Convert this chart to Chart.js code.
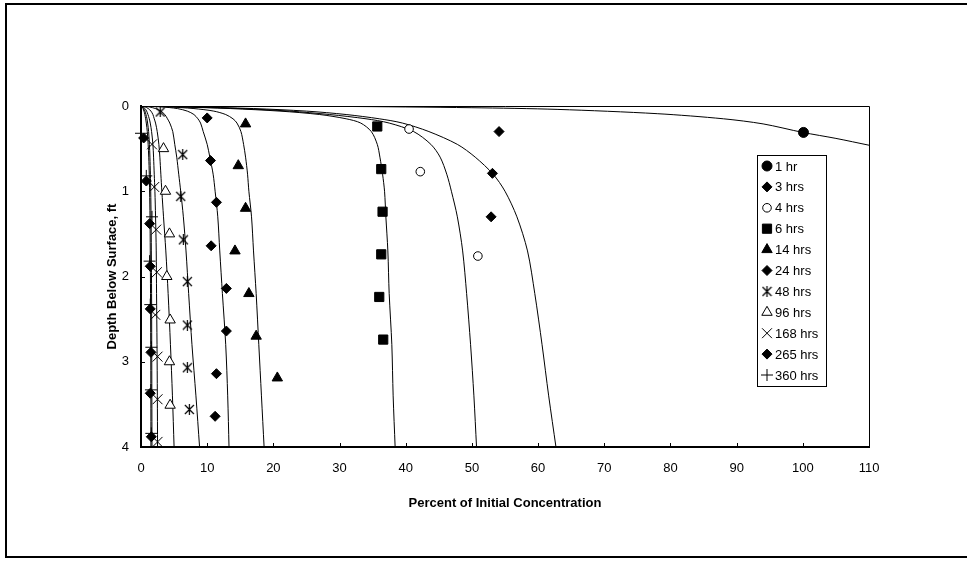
<!DOCTYPE html>
<html>
<head>
<meta charset="utf-8">
<script src="https://cdn.jsdelivr.net/npm/chart.js@4/dist/chart.umd.min.js"></script>
<style>
  html, body { margin: 0; padding: 0; background: #fff; }
  #wrap { width: 967px; height: 561px; }
</style>
</head>
<body>
<div id="wrap"><canvas id="profile" width="967" height="561"></canvas></div>
<script>
// Concentration profiles with depth, measured points and fitted curves
const seriesLabels = ['1 hr', '3 hrs', '4 hrs', '6 hrs', '14 hrs', '24 hrs', '48 hrs', '96 hrs', '168 hrs', '265 hrs', '360 hrs'];

// measured points: percent of initial concentration / depth (ft)
const obs1X = [100.1];
const obs1D = [0.31];
const obs3X = [54.1, 53.1, 52.9];
const obs3D = [0.30, 0.79, 1.30];
const obs4X = [40.5, 42.2, 50.9];
const obs4D = [0.27, 0.77, 1.76];
const obs6X = [35.7, 36.3, 36.5, 36.3, 36.0, 36.6];
const obs6D = [0.24, 0.74, 1.24, 1.74, 2.24, 2.74];
const obs14X = [15.8, 14.7, 15.8, 14.2, 16.3, 17.4, 20.6];
const obs14D = [0.21, 0.70, 1.20, 1.70, 2.20, 2.70, 3.19];
const obs24X = [10.0, 10.5, 11.4, 10.6, 12.9, 12.9, 11.4, 11.2];
const obs24D = [0.14, 0.64, 1.13, 1.64, 2.14, 2.64, 3.14, 3.64];
const obs48X = [2.9, 6.3, 6.0, 6.4, 7.0, 7.0, 7.0, 7.3];
const obs48D = [0.07, 0.57, 1.06, 1.57, 2.06, 2.57, 3.07, 3.56];
const obs96X = [3.4, 3.7, 4.3, 3.9, 4.4, 4.3, 4.4];
const obs96D = [0.50, 1.00, 1.50, 2.00, 2.51, 3.00, 3.51];
const obs168X = [1.66, 2.0, 2.3, 2.4, 2.16, 2.5, 2.5, 2.5];
const obs168D = [0.45, 0.95, 1.45, 1.95, 2.45, 2.94, 3.44, 3.94];
const obs265X = [0.4, 0.8, 1.3, 1.4, 1.4, 1.5, 1.4, 1.56];
const obs265D = [0.375, 0.88, 1.38, 1.88, 2.38, 2.89, 3.37, 3.88];
const obs360X = [0, 0.8, 1.66, 1.3, 1.4, 1.56, 1.5, 1.56];
const obs360D = [0.32, 0.82, 1.30, 1.82, 2.33, 2.83, 3.33, 3.84];

// fitted curves, sampled at the same depths
const fitDepths = [0, 0.01, 0.03, 0.06, 0.1, 0.15, 0.2, 0.3, 0.45, 0.6, 0.8, 1.0, 1.3, 1.7, 2.2, 2.8, 3.4, 4.0];
const fit3 = [0, 7, 17, 25, 31, 36, 39.5, 43.5, 47.8, 50.5, 53.2, 55, 56.8, 58.4, 59.5, 60.6, 61.6, 62.7];
const fit4 = [0, 6, 15, 22.5, 28.5, 34, 37.5, 41.2, 43.8, 45.2, 46.2, 46.9, 47.8, 48.6, 49.2, 49.8, 50.3, 50.7];
const fit6 = [0, 5.5, 13.5, 21, 27, 31, 33.2, 34.8, 35.7, 36.1, 36.5, 36.8, 37.0, 37.3, 37.5, 37.9, 38.1, 38.4];
const fit14 = [0, 4, 8, 11, 12.8, 13.9, 14.5, 15.1, 15.5, 15.8, 16.1, 16.3, 16.7, 17.0, 17.4, 17.8, 18.2, 18.6];
const fit24 = [0, 3, 5.5, 7, 8, 8.6, 9.0, 9.4, 10.0, 10.4, 10.9, 11.2, 11.6, 11.9, 12.3, 12.8, 13.1, 13.3];
const fit48 = [0, 1.2, 2.2, 3.0, 3.6, 4.0, 4.35, 4.8, 5.1, 5.4, 5.7, 6.0, 6.4, 6.8, 7.2, 7.7, 8.3, 8.85];
const fit96 = [0, 0.6, 1.1, 1.5, 1.8, 2.0, 2.2, 2.45, 2.7, 2.85, 3.0, 3.15, 3.4, 3.75, 4.1, 4.45, 4.75, 5.0];
const fit168 = [0, 0.3, 0.6, 0.85, 1.05, 1.25, 1.4, 1.6, 1.8, 1.9, 2.0, 2.1, 2.2, 2.3, 2.35, 2.42, 2.47, 2.5];
const fit265 = [0, 0.2, 0.4, 0.6, 0.75, 0.9, 1.0, 1.15, 1.27, 1.35, 1.42, 1.47, 1.52, 1.56, 1.6, 1.62, 1.64, 1.66];
const fit360 = [0, 0.15, 0.3, 0.45, 0.58, 0.7, 0.8, 0.95, 1.08, 1.17, 1.25, 1.3, 1.36, 1.4, 1.44, 1.47, 1.49, 1.5];
// the 1 hr curve leaves the plot on the right
const fit1X = [0, 30, 50, 63, 78, 88, 94, 100, 105, 110];
const fit1D = [0, 0.005, 0.02, 0.04, 0.09, 0.15, 0.21, 0.31, 0.38, 0.46];

const xTicks = [0, 10, 20, 30, 40, 50, 60, 70, 80, 90, 100, 110];
const yTicks = [0, 1, 2, 3, 4];

const FONT = 'Arial, "Liberation Sans", sans-serif';

function pairs(xs, ds) {
    return xs.map((x, i) => ({ x: x, y: ds[i] }));
}

// Excel style star: an X with a vertical stroke
function asteriskMarker(size) {
    const c = document.createElement('canvas');
    c.width = size;
    c.height = size;
    const g = c.getContext('2d');
    g.strokeStyle = '#000';
    g.lineWidth = 1.2;
    g.beginPath();
    g.moveTo(1, 1); g.lineTo(size - 1, size - 1);
    g.moveTo(size - 1, 1); g.lineTo(1, size - 1);
    g.moveTo(size / 2, 0); g.lineTo(size / 2, size);
    g.stroke();
    return c;
}
const asterisk = asteriskMarker(11);

const markerStyles = [
    { pointStyle: 'circle', radius: 5, fill: '#000' },
    { pointStyle: 'rectRot', radius: 5, fill: '#000' },
    { pointStyle: 'circle', radius: 4.3, fill: '#fff' },
    { pointStyle: 'rect', radius: 6.5, fill: '#000' },
    { pointStyle: 'triangle', radius: 6, fill: '#000' },
    { pointStyle: 'rectRot', radius: 5, fill: '#000' },
    { pointStyle: asterisk, radius: 5, fill: '#000' },
    { pointStyle: 'triangle', radius: 6, fill: '#fff' },
    { pointStyle: 'crossRot', radius: 7, fill: '#000' },
    { pointStyle: 'rectRot', radius: 5, fill: '#000' },
    { pointStyle: 'cross', radius: 6, fill: '#000' }
];

const observed = [
    pairs(obs1X, obs1D), pairs(obs3X, obs3D), pairs(obs4X, obs4D), pairs(obs6X, obs6D),
    pairs(obs14X, obs14D), pairs(obs24X, obs24D), pairs(obs48X, obs48D), pairs(obs96X, obs96D),
    pairs(obs168X, obs168D), pairs(obs265X, obs265D), pairs(obs360X, obs360D)
];

const fitted = [
    pairs(fit1X, fit1D), pairs(fit3, fitDepths), pairs(fit4, fitDepths), pairs(fit6, fitDepths),
    pairs(fit14, fitDepths), pairs(fit24, fitDepths), pairs(fit48, fitDepths), pairs(fit96, fitDepths),
    pairs(fit168, fitDepths), pairs(fit265, fitDepths), pairs(fit360, fitDepths)
];

const datasets = [];
seriesLabels.forEach((label, i) => {
    const st = markerStyles[i];
    datasets.push({
        label: label,
        data: observed[i],
        showLine: false,
        pointStyle: st.pointStyle,
        pointRadius: st.radius,
        pointHoverRadius: st.radius,
        pointBackgroundColor: st.fill,
        pointBorderColor: '#000',
        pointBorderWidth: 1,
        backgroundColor: st.fill,
        borderColor: '#000',
        clip: false,
        order: 0
    });
});
fitted.forEach((pts, i) => {
    datasets.push({
        label: 'fit ' + seriesLabels[i],
        data: pts,
        showLine: true,
        fill: false,
        pointRadius: 0,
        borderColor: '#000',
        borderWidth: 1,
        tension: 0.3,
        order: 1
    });
});

// outer frame, plot box and inward tick marks
const framePlugin = {
    id: 'frame',
    beforeDraw(chart) {
        const ctx = chart.ctx;
        ctx.save();
        ctx.fillStyle = '#fff';
        ctx.fillRect(0, 0, chart.width, chart.height);
        ctx.strokeStyle = '#000';
        ctx.lineWidth = 2;
        ctx.strokeRect(6, 4, 980, 553);
        ctx.restore();
    },
    afterDatasetsDraw(chart) {
        const ctx = chart.ctx;
        const a = chart.chartArea;
        const xs = chart.scales.x;
        const ys = chart.scales.y;
        ctx.save();
        ctx.strokeStyle = '#000';
        ctx.lineWidth = 1;
        ctx.beginPath();
        ctx.moveTo(a.left, a.top + 0.5);
        ctx.lineTo(a.right + 0.5, a.top + 0.5);
        ctx.lineTo(a.right + 0.5, a.bottom);
        ctx.stroke();
        ctx.beginPath();
        xTicks.forEach(v => {
            const px = Math.round(xs.getPixelForValue(v)) + 0.5;
            ctx.moveTo(px, a.bottom);
            ctx.lineTo(px, a.bottom - 4);
        });
        yTicks.forEach(v => {
            const py = Math.round(ys.getPixelForValue(v)) + 0.5;
            ctx.moveTo(a.left, py);
            ctx.lineTo(a.left + 4, py);
        });
        ctx.stroke();
        ctx.restore();
    }
};

// boxed legend inside the plot, markers only
const legendBox = {
    id: 'legendBox',
    afterDraw(chart) {
        const ctx = chart.ctx;
        ctx.save();
        ctx.fillStyle = '#fff';
        ctx.fillRect(757.5, 155.5, 69, 231);
        ctx.strokeStyle = '#000';
        ctx.lineWidth = 1;
        ctx.strokeRect(757.5, 155.5, 69, 231);
        ctx.font = '13px ' + FONT;
        ctx.textBaseline = 'middle';
        seriesLabels.forEach((label, i) => {
            const st = markerStyles[i];
            const y = 166 + i * 20.9;
            ctx.fillStyle = st.fill;
            ctx.strokeStyle = '#000';
            ctx.lineWidth = 1;
            Chart.helpers.drawPoint(ctx, { pointStyle: st.pointStyle, radius: st.radius, borderWidth: 1, rotation: 0 }, 767, y);
            ctx.fillStyle = '#000';
            ctx.fillText(label, 775, y + 1);
        });
        ctx.restore();
    }
};

new Chart(document.getElementById('profile'), {
    type: 'scatter',
    data: { datasets: datasets },
    options: {
        responsive: false,
        animation: false,
        events: [],
        layout: { padding: { top: 106, right: 98, left: 0, bottom: 0 } },
        plugins: {
            legend: { display: false },
            tooltip: { enabled: false }
        },
        scales: {
            x: {
                type: 'linear',
                min: 0,
                max: 110,
                afterFit: s => { s.height = 114; },
                afterBuildTicks: s => { s.ticks = xTicks.map(v => ({ value: v })); },
                ticks: { color: '#000', padding: 14, font: { family: FONT, size: 13 } },
                grid: { display: false, drawTicks: false },
                border: { display: true, color: '#000', width: 2 },
                title: {
                    display: true,
                    text: 'Percent of Initial Concentration',
                    color: '#000',
                    font: { family: FONT, size: 13, weight: 'bold' },
                    padding: { top: 0, bottom: 50 }
                }
            },
            y: {
                type: 'linear',
                min: 0,
                max: 4,
                reverse: true,
                afterFit: s => { s.width = 141; },
                afterBuildTicks: s => { s.ticks = yTicks.map(v => ({ value: v })); },
                ticks: { color: '#000', padding: 12, font: { family: FONT, size: 13 } },
                grid: { display: false, drawTicks: false },
                border: { display: true, color: '#000', width: 2 },
                title: {
                    display: true,
                    text: 'Depth Below Surface, ft',
                    color: '#000',
                    font: { family: FONT, size: 13, weight: 'bold' },
                    padding: { top: 105, bottom: 0 }
                }
            }
        }
    },
    plugins: [framePlugin, legendBox]
});
</script>
</body>
</html>
